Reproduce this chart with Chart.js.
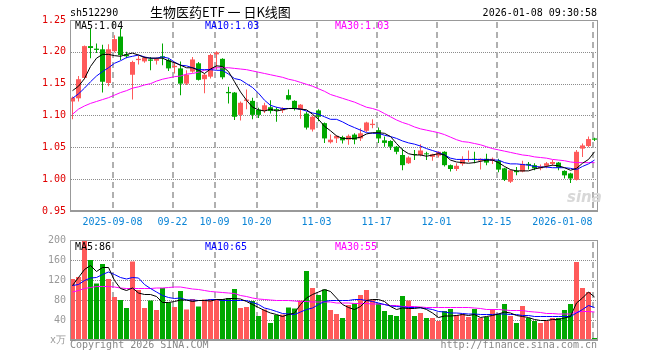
<!DOCTYPE html>
<html><head><meta charset="utf-8">
<script src="https://cdn.jsdelivr.net/npm/chart.js@4.4.1/dist/chart.umd.min.js"></script>
<style>
html,body{margin:0;padding:0;background:#fff;}
#wrap{position:relative;width:660px;height:360px;overflow:hidden;font-family:"DejaVu Sans Mono",monospace;font-size:10px;}
canvas{position:absolute;left:0;}
#c1{top:0;}
#c2{top:230px;}
.t{position:absolute;white-space:nowrap;line-height:10px;}
</style></head>
<body><div id="wrap">
<canvas id="c1" width="660" height="230"></canvas>
<canvas id="c2" width="660" height="130"></canvas>
<div class="t" style="left:70px;top:8px;color:#000">sh512290</div>
<div class="t" style="left:150px;top:5px;font-family:'Noto Sans CJK SC',sans-serif;font-size:13px;line-height:13px;color:#000">生物医药ETF 一 日K线图</div>
<div class="t" style="right:63px;top:8px;color:#000">2026-01-08 09:30:58</div>
<div class="t" style="left:75px;top:21px;color:#000">MA5:1.04</div>
<div class="t" style="left:205px;top:21px;color:#0000ff">MA10:1.03</div>
<div class="t" style="left:335px;top:21px;color:#ff00ff">MA30:1.03</div>
<div class="t" style="left:75px;top:242px;color:#000">MA5:86</div>
<div class="t" style="left:205px;top:242px;color:#0000ff">MA10:65</div>
<div class="t" style="left:335px;top:242px;color:#ff00ff">MA30:55</div>
<div class="t" style="left:70px;top:340px;color:#888">Copyright 2026 SINA.COM</div>
<div class="t" style="right:63px;top:340px;color:#888">http://finance.sina.com.cn</div>
<div class="t" style="left:567px;top:190px;color:#d8d8d8;font-family:'DejaVu Sans',sans-serif;font-size:15px;line-height:15px;font-weight:bold;font-style:italic">sina</div>
</div>
<script>
const dates = [
'2025-08-28','2025-08-29','2025-09-01','2025-09-02','2025-09-03','2025-09-04','2025-09-05',
'2025-09-08','2025-09-09','2025-09-10','2025-09-11','2025-09-12',
'2025-09-15','2025-09-16','2025-09-17','2025-09-18','2025-09-19',
'2025-09-22','2025-09-23','2025-09-24','2025-09-25','2025-09-26',
'2025-09-29','2025-09-30','2025-10-09','2025-10-10',
'2025-10-13','2025-10-14','2025-10-15','2025-10-16','2025-10-17',
'2025-10-20','2025-10-21','2025-10-22','2025-10-23','2025-10-24',
'2025-10-27','2025-10-28','2025-10-29','2025-10-30','2025-10-31',
'2025-11-03','2025-11-04','2025-11-05','2025-11-06','2025-11-07',
'2025-11-10','2025-11-11','2025-11-12','2025-11-13','2025-11-14',
'2025-11-17','2025-11-18','2025-11-19','2025-11-20','2025-11-21',
'2025-11-24','2025-11-25','2025-11-26','2025-11-27','2025-11-28',
'2025-12-01','2025-12-02','2025-12-03','2025-12-04','2025-12-05',
'2025-12-08','2025-12-09','2025-12-10','2025-12-11','2025-12-12',
'2025-12-15','2025-12-16','2025-12-17','2025-12-18','2025-12-19',
'2025-12-22','2025-12-23','2025-12-24','2025-12-25','2025-12-26',
'2025-12-29','2025-12-30','2025-12-31',
'2026-01-05','2026-01-06','2026-01-07','2026-01-08'];

const open = [1.122,1.127,1.159,1.209,1.205,1.204,1.151,1.201,1.224,1.196,
1.164,1.187,1.185,1.188,1.186,1.193,1.187,1.176,1.174,1.150,
1.169,1.182,1.157,1.161,1.196,1.189,1.137,1.136,1.101,1.123,
1.123,1.109,1.107,1.113,1.110,1.108,1.132,1.123,1.109,1.103,
1.078,1.108,1.088,1.058,1.064,1.066,1.062,1.070,1.064,1.076,
1.085,1.077,1.061,1.060,1.051,1.038,1.025,1.039,1.038,1.040,
1.035,1.037,1.043,1.022,1.016,1.024,1.030,1.032,1.029,1.032,
1.029,1.029,1.017,0.996,1.013,1.012,1.024,1.022,1.017,1.021,
1.024,1.026,1.013,1.009,0.999,1.048,1.052,1.064];
const high = [1.130,1.162,1.210,1.237,1.213,1.211,1.212,1.226,1.237,1.200,
1.186,1.194,1.193,1.192,1.191,1.213,1.190,1.184,1.185,1.171,
1.192,1.184,1.166,1.197,1.201,1.190,1.145,1.137,1.122,1.141,
1.128,1.112,1.120,1.124,1.113,1.113,1.141,1.124,1.118,1.106,
1.100,1.110,1.089,1.070,1.069,1.068,1.070,1.072,1.080,1.090,
1.094,1.081,1.067,1.061,1.052,1.048,1.036,1.046,1.055,1.043,
1.040,1.044,1.044,1.023,1.025,1.036,1.045,1.043,1.033,1.040,
1.034,1.032,1.018,1.015,1.019,1.029,1.027,1.025,1.023,1.027,
1.030,1.027,1.014,1.010,1.046,1.056,1.067,1.065];
const low = [1.094,1.122,1.157,1.190,1.198,1.136,1.146,1.199,1.187,1.190,
1.125,1.180,1.183,1.171,1.180,1.179,1.170,1.166,1.132,1.148,
1.167,1.155,1.135,1.158,1.172,1.157,1.119,1.093,1.092,1.110,
1.094,1.096,1.104,1.103,1.090,1.104,1.124,1.108,1.095,1.078,
1.075,1.091,1.057,1.056,1.057,1.056,1.054,1.055,1.060,1.074,
1.080,1.057,1.051,1.046,1.039,1.014,1.024,1.030,1.036,1.030,
1.029,1.034,1.020,1.012,1.013,1.021,1.027,1.025,1.015,1.022,
1.024,1.011,0.997,0.994,1.006,1.011,1.015,1.014,1.014,1.017,
1.021,1.014,1.001,0.994,0.998,1.035,1.050,1.060];
const close = [1.128,1.157,1.209,1.206,1.203,1.153,1.204,1.220,1.195,1.193,
1.184,1.189,1.191,1.186,1.189,1.191,1.174,1.178,1.150,1.164,
1.188,1.156,1.164,1.195,1.199,1.160,1.135,1.098,1.120,1.125,
1.101,1.101,1.116,1.107,1.108,1.111,1.125,1.111,1.117,1.081,
1.098,1.098,1.064,1.062,1.068,1.061,1.068,1.062,1.072,1.089,
1.087,1.064,1.057,1.051,1.043,1.022,1.034,1.038,1.045,1.039,
1.039,1.043,1.022,1.016,1.021,1.031,1.031,1.030,1.032,1.026,
1.032,1.015,0.999,1.014,1.011,1.024,1.022,1.017,1.020,1.025,
1.027,1.018,1.006,1.001,1.043,1.053,1.063,1.062];

const ma5 = [1.139,1.146,1.158,1.177,1.190,1.196,1.196,1.194,1.193,1.196,
1.198,1.195,1.191,1.190,1.190,1.190,1.186,1.183,1.179,1.175,
1.175,1.171,1.166,1.173,1.178,1.177,1.169,1.153,1.137,1.124,
1.113,1.109,1.107,1.110,1.107,1.109,1.111,1.111,1.110,1.109,
1.102,1.094,1.083,1.076,1.068,1.064,1.064,1.064,1.066,1.071,
1.073,1.073,1.072,1.067,1.056,1.046,1.040,1.038,1.038,1.036,
1.038,1.040,1.038,1.030,1.027,1.026,1.025,1.026,1.028,1.030,
1.030,1.026,1.020,1.015,1.013,1.013,1.013,1.016,1.018,1.020,
1.022,1.021,1.018,1.014,1.017,1.025,1.031,1.043];
const ma10 = [1.127,1.134,1.143,1.153,1.162,1.169,1.175,1.182,1.186,1.191,
1.193,1.195,1.192,1.190,1.190,1.192,1.190,1.184,1.179,1.178,
1.175,1.172,1.172,1.172,1.171,1.171,1.165,1.158,1.156,1.150,
1.144,1.135,1.124,1.116,1.113,1.111,1.111,1.111,1.110,1.107,
1.104,1.102,1.098,1.094,1.094,1.090,1.085,1.081,1.077,1.073,
1.072,1.072,1.069,1.067,1.064,1.060,1.057,1.055,1.052,1.048,
1.045,1.042,1.038,1.033,1.031,1.031,1.031,1.031,1.031,1.031,
1.030,1.030,1.026,1.024,1.024,1.023,1.022,1.020,1.019,1.019,
1.018,1.018,1.018,1.017,1.015,1.020,1.024,1.030];
const ma30 = [1.102,1.110,1.115,1.119,1.122,1.125,1.128,1.132,1.136,1.139,
1.143,1.145,1.148,1.150,1.154,1.157,1.159,1.161,1.162,1.165,
1.166,1.168,1.171,1.173,1.175,1.175,1.175,1.174,1.173,1.172,
1.170,1.168,1.166,1.164,1.162,1.160,1.157,1.155,1.152,1.149,
1.146,1.142,1.138,1.133,1.130,1.127,1.124,1.121,1.117,1.113,
1.111,1.108,1.103,1.098,1.093,1.089,1.086,1.082,1.079,1.077,
1.075,1.073,1.070,1.066,1.062,1.059,1.058,1.056,1.054,1.051,
1.048,1.046,1.044,1.042,1.040,1.038,1.037,1.035,1.034,1.033,
1.031,1.030,1.029,1.027,1.026,1.026,1.026,1.026];

const volume = [122,126,205,160,113,152,122,86,80,64,
157,100,64,79,60,104,75,66,98,61,
82,67,81,82,82,82,84,102,64,66,
78,48,61,34,50,51,65,63,79,138,
104,90,101,60,52,44,70,73,90,100,
81,73,58,50,48,88,79,48,54,44,
44,38,58,62,50,52,46,62,44,46,
62,52,72,48,34,68,44,38,34,38,
44,44,60,72,156,104,96,4];
const volMa5 = [109,125,141,149,137,145,145,119,103,99,
104,94,91,91,87,75,75,77,80,80,
77,79,79,78,81,81,83,83,82,77,
71,65,59,54,51,47,51,54,71,84,
91,96,101,97,84,71,65,61,67,79,
81,81,77,67,61,64,63,63,65,61,
54,45,48,48,49,51,49,51,45,47,
49,52,56,54,49,47,45,41,39,39,
41,41,44,47,74,84,96,86];
const volMa10 = [109,111,119,124,125,131,136,131,125,122,
125,124,111,103,96,89,85,83,84,80,
80,79,79,81,81,79,79,79,79,79,
75,71,64,61,57,53,52,51,56,61,
64,71,77,79,79,79,79,81,81,79,
77,74,71,68,67,66,65,65,64,63,
61,57,56,54,54,53,52,52,51,51,
51,52,52,51,51,49,49,47,47,47,
47,47,47,47,54,61,69,65];
const volMa30 = [96,99,103,105,107,107,107,106,104,103,
103,103,103,103,104,104,105,106,106,104,
102,101,99,97,96,95,94,93,89,87,
84,82,81,80,79,79,79,78,77,77,
76,76,76,76,74,74,74,73,73,73,
72,72,71,69,69,67,67,67,66,65,
65,65,65,65,65,65,65,64,63,61,
61,61,60,59,59,59,57,56,55,53,
53,52,52,52,56,57,57,56];

const tickDates = ['2025-09-08','2025-09-22','2025-10-09','2025-10-20','2025-11-03','2025-11-17','2025-12-01','2025-12-15','2026-01-08'];
const tickLabels = ['2025-09-08','09-22','10-09','10-20','11-03','11-17','12-01','12-15','2026-01-08'];
const priceTicks = [0.95,1.00,1.05,1.10,1.15,1.20,1.25];
const volTicks = [0,40,80,120,160,200];

const UP = '#ff5a5a', DOWN = '#00a800';
const colors = open.map((o,i) => close[i] >= o ? UP : DOWN);
const FONT = {family:'DejaVu Sans Mono', size:10};
const XMIN = -5/12, XMAX = XMIN + 527/6;
const tickIdx = tickDates.map(d => dates.indexOf(d));

function xAxis(showLabels, h){
  return {
    type:'linear', min:XMIN, max:XMAX, offset:false,
    afterBuildTicks: s => { s.ticks = [{value:XMIN}].concat(tickIdx.map(i => ({value:i - 1/3}))); },
    afterFit: s => { s.height = h; },
    ticks:{display:showLabels, autoSkip:false, maxRotation:0, minRotation:0, align:'inner', padding:5,
      color:'#0a84d6', font:FONT, callback:(v,i) => i === 0 ? '' : tickLabels[i-1]},
    grid:{display:false, offset:false, drawTicks:false},
    border:{display:true, color:'#999', width:1}
  };
}
function yAxis(min, max, ticks, color, fmt){
  return {
    min, max,
    afterBuildTicks: s => { s.ticks = ticks.map(v => ({value:v})); },
    afterFit: s => { s.width = 70; },
    ticks:{color, font:FONT, padding:4, callback: fmt},
    grid:{display:false, drawTicks:false},
    border:{display:true, color:'#999', width:1}
  };
}
// dotted horizontal and dashed vertical grid lines, drawn as small solid pieces
function drawGrid(chart){
  const {ctx, chartArea:a} = chart;
  const x = chart.scales.x, y = chart.scales.y;
  ctx.save();
  ctx.fillStyle = '#8c8c8c';
  y.ticks.forEach((t,i) => {
    if (i === 0 || i === y.ticks.length - 1) return;
    const py = Math.round(y.getPixelForValue(t.value));
    for (let px = Math.round(a.left) + 1; px < a.right + 2; px += 2) ctx.fillRect(px, py, 1, 1);
  });
  ctx.fillStyle = '#b0b0b0';
  x.ticks.forEach((t,i) => {
    if (i === 0) return;
    const px = Math.floor(x.getPixelForValue(t.value));
    for (let py = Math.round(a.top) + 2; py < a.bottom; py += 10)
      ctx.fillRect(px, py, 2, Math.min(6, a.bottom - py));
  });
  ctx.restore();
}
const gridLines = {id:'gridLines', beforeDatasetsDraw(chart){ drawGrid(chart); }};
const frame = {id:'frame', afterDraw(chart){
  const {ctx, chartArea:a} = chart;
  ctx.save(); ctx.strokeStyle = '#999'; ctx.lineWidth = 1;
  ctx.strokeRect(a.left + 0.5, a.top + 0.5, a.right - a.left, a.bottom - a.top - 1);
  ctx.restore();
}};
const pts = arr => arr.map((v,i) => ({x:i, y:v}));
const line = (arr, c) => ({type:'line', data:pts(arr), borderColor:c, borderWidth:1, pointRadius:0, tension:0, order:0});
const common = {responsive:false, animation:false, devicePixelRatio:1,
  plugins:{legend:{display:false}, tooltip:{enabled:false}}};

new Chart(document.getElementById('c1'), {
  type:'bar',
  data:{datasets:[
    {label:'wick', data:dates.map((d,i) => ({x:i, y:[low[i], high[i]]})), backgroundColor:colors,
      barThickness:1, grouped:false, inflateAmount:0, order:2},
    {label:'body', data:dates.map((d,i) => ({x:i, y:[open[i], close[i]]})), backgroundColor:colors,
      barThickness:5, minBarLength:1, grouped:false, inflateAmount:0, order:1},
    line(ma5,'#000000'), line(ma10,'#0000ff'), line(ma30,'#ff00ff')
  ]},
  options:Object.assign({}, common, {
    layout:{padding:{left:0, right:63, top:20, bottom:0}},
    scales:{x:xAxis(true, 19), y:yAxis(0.95, 1.25, priceTicks, '#e00000', v => v.toFixed(2))}
  }),
  plugins:[gridLines, frame]
});

new Chart(document.getElementById('c2'), {
  type:'bar',
  data:{datasets:[
    {label:'vol', data:pts(volume), backgroundColor:colors, barThickness:5, grouped:false, inflateAmount:0, order:1},
    line(volMa5,'#000000'), line(volMa10,'#0000ff'), line(volMa30,'#ff00ff')
  ]},
  options:Object.assign({}, common, {
    layout:{padding:{left:0, right:63, top:10, bottom:0}},
    scales:{x:xAxis(false, 20), y:yAxis(0, 200, volTicks, '#999999', v => v === 0 ? 'x万' : String(v))}
  }),
  plugins:[gridLines, frame]
});
</script>
</body></html>
